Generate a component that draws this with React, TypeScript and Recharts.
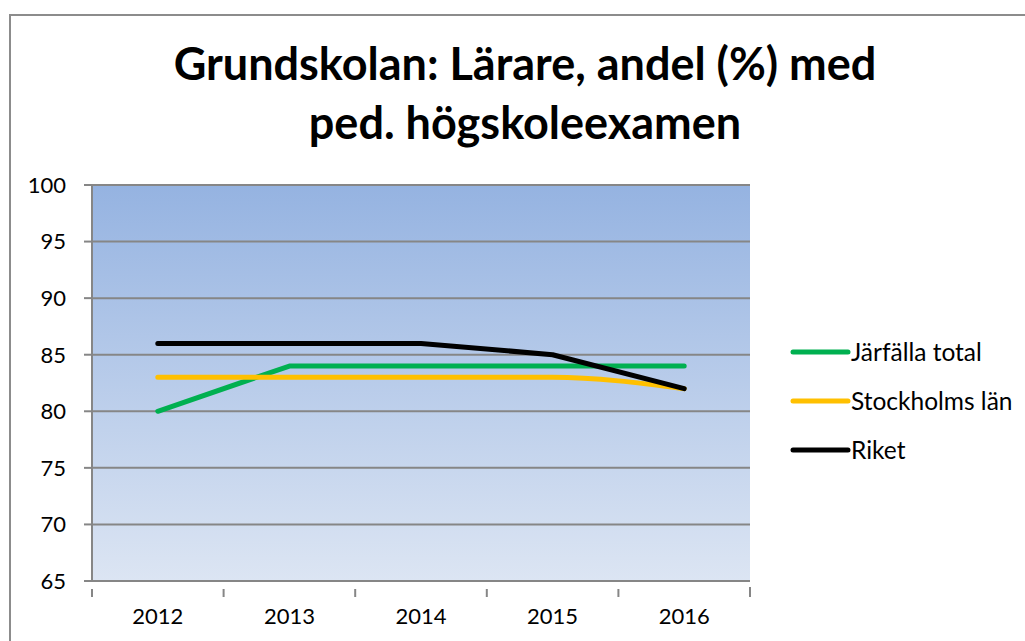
import React from "react";
import { LineChart, Line, XAxis, YAxis, CartesianGrid } from "recharts";

const years = ["2012", "2013", "2014", "2015", "2016"];
const jarfalla = [80, 84, 84, 84, 84];
const stockholm = [83, 83, 83, 83, 82];
const riket = [86, 86, 86, 85, 82];
const yTicks = [65, 70, 75, 80, 85, 90, 95, 100];

const series = [
  { key: "jarfalla", name: "Järfälla total", color: "#00B050", type: "linear" },
  { key: "stockholm", name: "Stockholms län", color: "#FFC000", type: "monotone" },
  { key: "riket", name: "Riket", color: "#000000", type: "linear" },
];

const data = years.map((year, i) => ({
  year,
  jarfalla: jarfalla[i],
  stockholm: stockholm[i],
  riket: riket[i],
}));

const FONT = "Lato, 'Open Sans', sans-serif";
const AXIS_GRAY = "#868686";

function XTick(props: any) {
  const { x, y, payload, index, visibleTicksCount } = props;
  const half = payload?.offset || 65.8;
  const last = index === visibleTicksCount - 1;
  return (
    <g>
      <line x1={x - half} y1={y} x2={x - half} y2={y + 8} stroke={AXIS_GRAY} strokeWidth={2} />
      {last && (
        <line x1={x + half} y1={y - 2} x2={x + half} y2={y + 8} stroke={AXIS_GRAY} strokeWidth={2} />
      )}
      <text x={x} y={y + 35} textAnchor="middle" fontFamily={FONT} fontSize={22} fill="#000">
        {payload.value}
      </text>
    </g>
  );
}

function ChartLegend() {
  return (
    <div
      style={{
        position: "absolute",
        left: 789,
        top: 327,
        fontFamily: FONT,
        fontSize: 24.5,
        color: "#000",
      }}
    >
      {series.map((s) => (
        <div key={s.key} style={{ display: "flex", alignItems: "center", height: 49 }}>
          <svg width={62} height={10} style={{ display: "block" }}>
            <line x1={4} y1={5} x2={59} y2={5} stroke={s.color} strokeWidth={5} strokeLinecap="round" />
          </svg>
          <span>{s.name}</span>
        </div>
      ))}
    </div>
  );
}

export default function App() {
  return (
    <div
      style={{
        position: "fixed",
        left: 0,
        top: 0,
        width: 1025,
        height: 641,
        overflow: "hidden",
        background: "#fff",
      }}
    >
      <div
        style={{
          position: "absolute",
          left: 9,
          top: 14,
          width: 1100,
          height: 700,
          border: "2px solid #8c8c8c",
          boxSizing: "border-box",
        }}
      />
      <div
        style={{
          position: "absolute",
          left: 0,
          top: 34,
          width: 1050,
          textAlign: "center",
          fontFamily: FONT,
          fontWeight: 700,
          fontSize: 45,
          lineHeight: "59px",
          color: "#000",
        }}
      >
        Grundskolan: Lärare, andel (%) med
        <br />
        ped. högskoleexamen
      </div>
      <div style={{ position: "absolute", left: 0, top: 0 }}>
        <LineChart
          width={1025}
          height={641}
          data={data}
          margin={{ top: 185, right: 275, bottom: 0, left: 0 }}
        >
          <defs>
            <linearGradient id="plotBg" x1="0" y1="0" x2="0" y2="1">
              <stop offset="0%" stopColor="#95B3E1" />
              <stop offset="100%" stopColor="#DCE5F3" />
            </linearGradient>
          </defs>
          <CartesianGrid
            vertical={false}
            stroke={AXIS_GRAY}
            strokeWidth={2}
            fill="url(#plotBg)"
            fillOpacity={1}
          />
          <XAxis
            dataKey="year"
            scale="band"
            height={60}
            interval={0}
            axisLine={{ stroke: AXIS_GRAY, strokeWidth: 2 }}
            tickLine={false}
            tick={<XTick />}
          />
          <YAxis
            width={92}
            domain={[65, 100]}
            ticks={yTicks}
            interval={0}
            axisLine={{ stroke: AXIS_GRAY, strokeWidth: 2 }}
            tickLine={{ stroke: AXIS_GRAY, strokeWidth: 2 }}
            tickSize={8}
            tickMargin={18}
            tick={{ fontFamily: FONT, fontSize: 22, fill: "#000" }}
          />
          {series.map((s) => (
            <Line
              key={s.key}
              type={s.type as any}
              dataKey={s.key}
              name={s.name}
              stroke={s.color}
              strokeWidth={5}
              strokeLinecap="round"
              strokeLinejoin="round"
              dot={false}
              activeDot={false}
              isAnimationActive={false}
            />
          ))}
        </LineChart>
      </div>
      <ChartLegend />
    </div>
  );
}
